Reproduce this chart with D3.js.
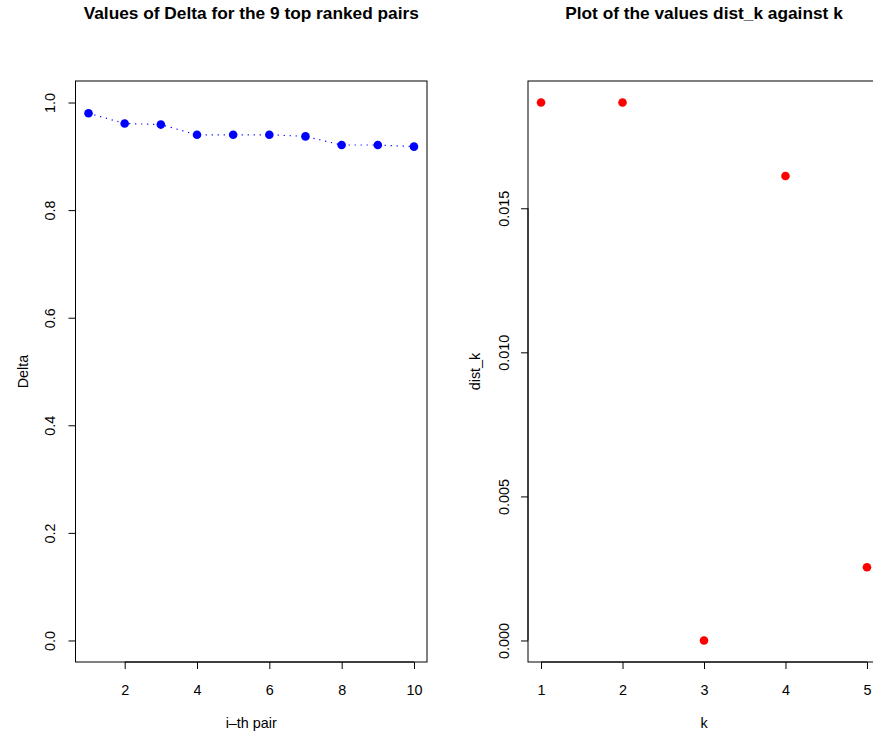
<!DOCTYPE html>
<html>
<head>
  <title>Delta and dist_k</title>
  <script src="https://d3js.org/d3.v7.min.js"></script>
  <style>
    body { margin: 0; background: white; }
    text { font-family: "Liberation Sans", Arial, sans-serif; }
  </style>
</head>
<body>
  <div id="chart"></div>

  <script>
    // left panel: Delta for each ranked pair
    var pairs = [1, 2, 3, 4, 5, 6, 7, 8, 9, 10];
    var delta = [0.980, 0.961, 0.959, 0.940, 0.940, 0.940, 0.937, 0.921, 0.921, 0.918];
    var pairTicks = [2, 4, 6, 8, 10];
    var deltaTicks = [0.0, 0.2, 0.4, 0.6, 0.8, 1.0];

    // right panel: dist_k against k
    var ks = [1, 2, 3, 4, 5];
    var distK = [0.01867, 0.01867, 0.0, 0.01612, 0.00254];
    var kTicks = [1, 2, 3, 4, 5];
    var distTicks = [0.000, 0.005, 0.010, 0.015];

    var width = 873, height = 734;
    var fs = 14.4;

    var svg = d3.select("#chart")
      .append("svg")
      .attr("width", width)
      .attr("height", height);

    // R style 4% range extension
    function ext(lo, hi) {
      var d = (hi - lo) * 0.04;
      return [lo - d, hi + d];
    }

    function panel(opts) {
      var x = d3.scaleLinear().domain(ext(opts.xlim[0], opts.xlim[1])).range([opts.left, opts.right]);
      var y = d3.scaleLinear().domain(ext(opts.ylim[0], opts.ylim[1])).range([opts.bottom, opts.top]);
      var g = svg.append("g");

      // title
      g.append("text")
        .attr("x", (opts.left + opts.right) / 2)
        .attr("y", 18.5)
        .attr("text-anchor", "middle")
        .style("font-size", "17.3px")
        .style("font-weight", "bold")
        .text(opts.title);

      // x axis
      var xa = g.append("g")
        .attr("transform", "translate(0," + opts.bottom + ")")
        .call(d3.axisBottom(x).tickValues(opts.xticks).tickSize(7)
          .tickFormat(d3.format("d")));
      xa.select(".domain").attr("d", "M" + x(opts.xticks[0]) + ",0H" + x(opts.xticks[opts.xticks.length - 1]));
      xa.selectAll(".tick text").attr("y", 33).attr("dy", null);

      // y axis
      var ya = g.append("g")
        .attr("transform", "translate(" + opts.left + ",0)")
        .call(d3.axisLeft(y).tickValues(opts.yticks).tickSize(7).tickFormat(opts.yfmt));
      ya.select(".domain").attr("d", "M0," + y(opts.yticks[0]) + "V" + y(opts.yticks[opts.yticks.length - 1]));
      ya.selectAll(".tick text")
        .attr("x", null).attr("dy", null)
        .attr("text-anchor", "middle")
        .attr("transform", "translate(" + (opts.ylabX - opts.left) + ",0) rotate(-90)");

      g.selectAll(".tick text").style("font-size", fs + "px").attr("fill", "black")
        .style("font-family", "'Liberation Sans', Arial, sans-serif");
      g.selectAll(".domain, .tick line").attr("stroke", "black");

      // axis titles
      g.append("text")
        .attr("x", (opts.left + opts.right) / 2)
        .attr("y", 728)
        .attr("text-anchor", "middle")
        .style("font-size", fs + "px")
        .text(opts.xlab);
      g.append("text")
        .attr("transform", "translate(" + opts.ytitleX + "," + ((opts.top + opts.bottom) / 2) + ") rotate(-90)")
        .attr("text-anchor", "middle")
        .style("font-size", fs + "px")
        .text(opts.ylab);

      // box
      g.append("rect")
        .attr("x", opts.left).attr("y", opts.top)
        .attr("width", opts.right - opts.left).attr("height", opts.bottom - opts.top)
        .attr("fill", "none").attr("stroke", "black");

      return { g: g, x: x, y: y };
    }

    var p1 = panel({
      left: 75.5, right: 427, top: 81, bottom: 662,
      xlim: [1, 10], ylim: [0, 1],
      xticks: pairTicks, yticks: deltaTicks, yfmt: d3.format(".1f"),
      ylabX: 55, ytitleX: 28,
      title: "Values of Delta for the 9 top ranked pairs",
      xlab: "i\u2013th pair", ylab: "Delta"
    });

    var line = d3.line()
      .x(function(d, i) { return p1.x(pairs[i]); })
      .y(function(d) { return p1.y(d); });

    p1.g.append("path")
      .datum(delta)
      .attr("d", line)
      .attr("fill", "none")
      .attr("stroke", "blue")
      .attr("stroke-width", 1.2)
      .attr("stroke-dasharray", "1.2,4.8");

    p1.g.selectAll(".pt")
      .data(delta)
      .enter()
      .append("circle")
      .attr("cx", function(d, i) { return p1.x(pairs[i]); })
      .attr("cy", function(d) { return p1.y(d); })
      .attr("r", 4.3)
      .attr("fill", "blue");

    var p2 = panel({
      left: 528, right: 880, top: 81, bottom: 662,
      xlim: [1, 5], ylim: [0, d3.max(distK)],
      xticks: kTicks, yticks: distTicks, yfmt: d3.format(".3f"),
      ylabX: 508.5, ytitleX: 480,
      title: "Plot of the values dist_k against k",
      xlab: "k", ylab: "dist_k"
    });

    p2.g.selectAll(".pt")
      .data(distK)
      .enter()
      .append("circle")
      .attr("cx", function(d, i) { return p2.x(ks[i]); })
      .attr("cy", function(d) { return p2.y(d); })
      .attr("r", 4.3)
      .attr("fill", "red");
  </script>
</body>
</html>
